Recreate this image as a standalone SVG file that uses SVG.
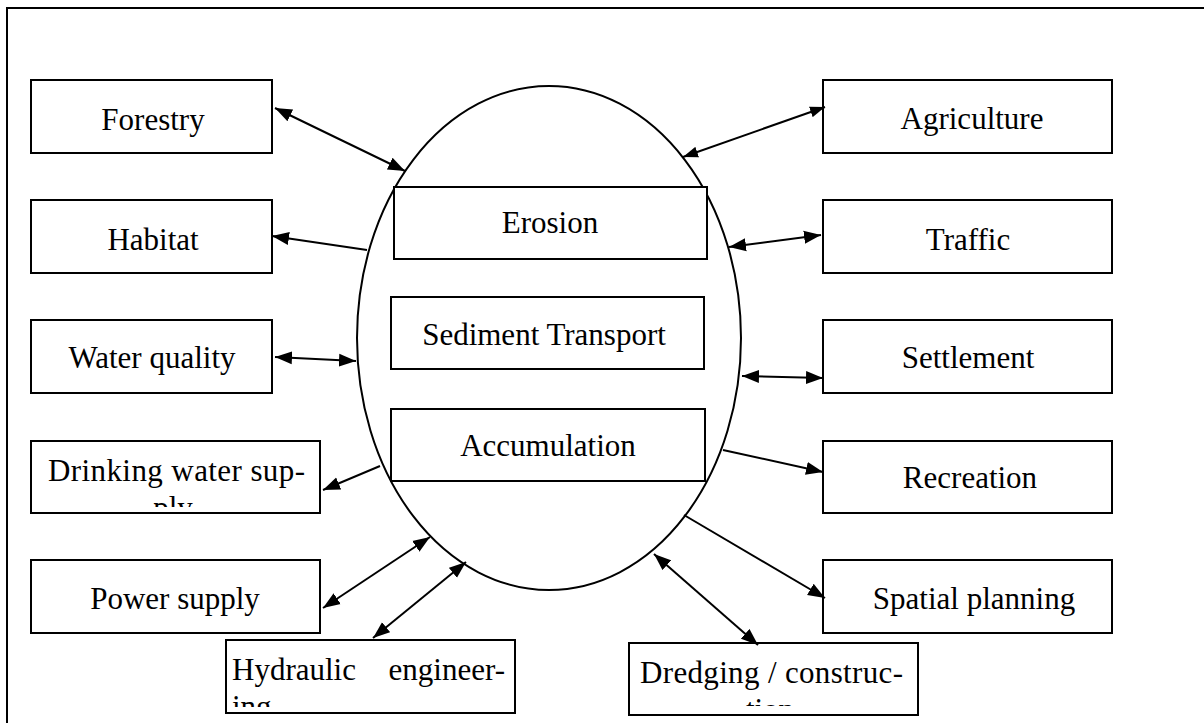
<svg xmlns="http://www.w3.org/2000/svg" width="1204" height="723" viewBox="0 0 1204 723">
<style>
.box{fill:#fff;stroke:#000;stroke-width:2}
.lbl{font-family:"Liberation Serif","Times New Roman",serif;font-size:31px;fill:#000}
.c{text-anchor:middle}
.ln{stroke:#000;stroke-width:2;fill:none}
</style>
<defs>
<marker id="ah" markerUnits="userSpaceOnUse" markerWidth="18" markerHeight="14" refX="17" refY="6.5" orient="auto-start-reverse" viewBox="0 0 18 13">
<path d="M0,0 L17,6.5 L0,13 z" fill="#000"/>
</marker>
<marker id="ahs" markerUnits="userSpaceOnUse" markerWidth="16" markerHeight="12" refX="15" refY="5.5" orient="auto-start-reverse" viewBox="0 0 16 11">
<path d="M0,0 L15,5.5 L0,11 z" fill="#000"/>
</marker>
<clipPath id="cDrink"><rect x="31" y="441" width="289" height="66"/></clipPath>
<clipPath id="cHyd"><rect x="226" y="640" width="289" height="67"/></clipPath>
<clipPath id="cDred"><rect x="629" y="643" width="289" height="63"/></clipPath>
</defs>
<rect x="7" y="8" width="1220" height="740" fill="#fff" stroke="#000" stroke-width="2"/>

<g id="center">
<ellipse cx="549" cy="338" rx="192" ry="252" fill="#fff" stroke="#000" stroke-width="2"/>
</g>
<g id="erosion"><rect class="box" x="394" y="187" width="313" height="72"/><text class="lbl c" x="550" y="233">Erosion</text></g>
<g id="sediment"><rect class="box" x="391" y="297" width="313" height="72"/><text class="lbl c" x="544" y="345">Sediment Transport</text></g>
<g id="accumulation"><rect class="box" x="391" y="409" width="314" height="72"/><text class="lbl c" x="548" y="456">Accumulation</text></g>

<g id="forestry"><rect class="box" x="31" y="80" width="241" height="73"/><text class="lbl c" x="153" y="130">Forestry</text></g>
<g id="habitat"><rect class="box" x="31" y="200" width="241" height="73"/><text class="lbl c" x="153" y="250">Habitat</text></g>
<g id="waterquality"><rect class="box" x="31" y="320" width="241" height="73"/><text class="lbl c" x="152" y="368">Water quality</text></g>
<g id="drinking"><rect class="box" x="31" y="441" width="289" height="72"/>
<g clip-path="url(#cDrink)"><text class="lbl" x="48" y="481" textLength="257" lengthAdjust="spacing">Drinking water sup-</text><text class="lbl c" x="173" y="518">ply</text></g></g>
<g id="power"><rect class="box" x="31" y="560" width="289" height="73"/><text class="lbl c" x="175" y="609">Power supply</text></g>
<g id="hydraulic"><rect class="box" x="226" y="640" width="289" height="73"/>
<g clip-path="url(#cHyd)"><text class="lbl" x="232" y="680">Hydraulic</text><text class="lbl" x="505" y="680" text-anchor="end">engineer-</text><text class="lbl" x="232" y="717">ing</text></g></g>

<g id="agriculture"><rect class="box" x="823" y="80" width="289" height="73"/><text class="lbl c" x="972" y="129">Agriculture</text></g>
<g id="traffic"><rect class="box" x="823" y="200" width="289" height="73"/><text class="lbl c" x="968" y="250">Traffic</text></g>
<g id="settlement"><rect class="box" x="823" y="320" width="289" height="73"/><text class="lbl c" x="968" y="368">Settlement</text></g>
<g id="recreation"><rect class="box" x="823" y="441" width="289" height="72"/><text class="lbl c" x="970" y="488">Recreation</text></g>
<g id="spatial"><rect class="box" x="823" y="560" width="289" height="73"/><text class="lbl c" x="974" y="609">Spatial planning</text></g>
<g id="dredging"><rect class="box" x="629" y="643" width="289" height="72"/>
<g clip-path="url(#cDred)"><text class="lbl" x="640" y="683" textLength="263" lengthAdjust="spacing">Dredging / construc-</text><text class="lbl c" x="770" y="720">tion</text></g></g>

<g id="connectors">
<line class="ln" x1="275" y1="108" x2="405" y2="171" stroke-width="2.5" marker-start="url(#ah)" marker-end="url(#ah)"/>
<line class="ln" x1="367" y1="250" x2="272" y2="236" marker-end="url(#ah)"/>
<line class="ln" x1="275" y1="357" x2="356" y2="361" marker-start="url(#ah)" marker-end="url(#ah)"/>
<line class="ln" x1="380" y1="466" x2="323" y2="490" marker-end="url(#ah)"/>
<line class="ln" x1="323" y1="608" x2="430" y2="537" marker-start="url(#ah)" marker-end="url(#ah)"/>
<line class="ln" x1="373" y1="638" x2="466" y2="562" marker-start="url(#ah)" marker-end="url(#ah)"/>
<line class="ln" x1="683" y1="157" x2="825" y2="107" stroke-width="1" marker-start="url(#ahs)" marker-end="url(#ahs)"/>
<line class="ln" x1="729" y1="247" x2="821" y2="235" marker-start="url(#ah)" marker-end="url(#ah)"/>
<line class="ln" x1="742" y1="376" x2="823" y2="378" marker-start="url(#ah)" marker-end="url(#ah)"/>
<line class="ln" x1="723" y1="450" x2="823" y2="472" marker-end="url(#ah)"/>
<line class="ln" x1="684" y1="515" x2="825" y2="598" marker-end="url(#ah)"/>
<line class="ln" x1="654" y1="554" x2="758" y2="645" stroke-width="1.3" marker-start="url(#ah)" marker-end="url(#ah)"/>
</g>
</svg>
